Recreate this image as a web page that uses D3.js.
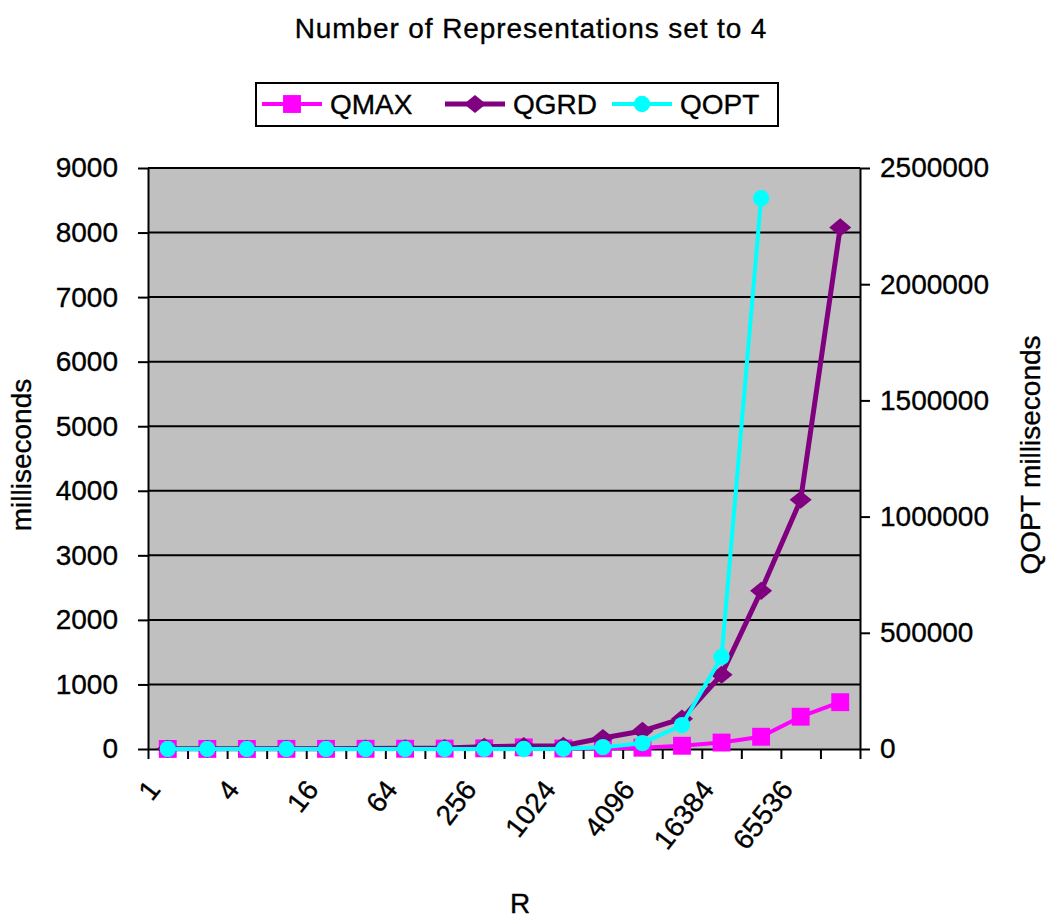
<!DOCTYPE html>
<html>
<head>
<meta charset="utf-8">
<script src="https://cdn.jsdelivr.net/npm/d3@7"></script>
<style>
  html, body { margin: 0; padding: 0; background: #ffffff; }
  svg { display: block; }
  text { font-family: "Liberation Sans", Arial, sans-serif; fill: #000; stroke: #000; stroke-width: 0.35px; }
</style>
</head>
<body>
<svg id="chart" width="1048" height="921"></svg>
<script>
// R values (powers of two) along the category axis
const categories = ["1","2","4","8","16","32","64","128","256","512","1024","2048",
                    "4096","8192","16384","32768","65536","131072"];
// Every other category is labelled
const xTickLabels = ["1","4","16","64","256","1024","4096","16384","65536"];

// Running times in milliseconds (left axis)
const qmax = [1, 1, 1, 2, 2, 3, 4, 6, 10, 25, 8, 10, 20, 50, 100, 190, 500, 725];
const qgrd = [2, 2, 3, 4, 5, 7, 10, 15, 35, 45, 50, 170, 280, 470, 1150, 2450, 3860, 8080];
// QOPT running time in milliseconds (right axis), measured up to R = 32768
const qopt = [1, 2, 4, 8, 15, 30, 60, 120, 250, 500, 1000, 8000, 25000, 103000, 396000, 2370000];

const leftTicks = [0, 1000, 2000, 3000, 4000, 5000, 6000, 7000, 8000, 9000];
const rightTicks = [0, 500000, 1000000, 1500000, 2000000, 2500000];

const svg = d3.select("#chart");
const plot = { left: 148, right: 860, top: 168, bottom: 749 };
const FONT = 28;

const x = d3.scaleBand().domain(categories).range([plot.left, plot.right]).padding(0);
const xIdx = d3.scaleLinear().domain([0, categories.length]).range([plot.left, plot.right]);
const yL = d3.scaleLinear().domain([0, 9000]).range([plot.bottom, plot.top]);
const yR = d3.scaleLinear().domain([0, 2500000]).range([plot.bottom, plot.top]);
const cx = c => x(c) + x.bandwidth() / 2;

// Wide diamond marker (wider than tall)
const wideDiamond = {
  draw(ctx, size) {
    const w = Math.sqrt(size) * 0.78, h = Math.sqrt(size) * 0.64;
    ctx.moveTo(0, -h); ctx.lineTo(w, 0); ctx.lineTo(0, h); ctx.lineTo(-w, 0); ctx.closePath();
  }
};

// Title
svg.append("text")
  .attr("x", 531).attr("y", 38)
  .attr("text-anchor", "middle")
  .style("font-size", FONT + "px")
  .style("letter-spacing", "0.9px")
  .text("Number of Representations set to 4");

// Plot background
svg.append("rect")
  .attr("x", plot.left).attr("y", plot.top)
  .attr("width", plot.right - plot.left).attr("height", plot.bottom - plot.top)
  .attr("fill", "#c0c0c0");

// Horizontal gridlines
svg.append("g").selectAll("line").data(leftTicks.filter(d => d > 0)).join("line")
  .attr("x1", plot.left).attr("x2", plot.right)
  .attr("y1", d => yL(d)).attr("y2", d => yL(d))
  .attr("stroke", "#000").attr("stroke-width", 2);

// Left axis
const gL = svg.append("g").attr("transform", `translate(${plot.left},0)`)
  .call(d3.axisLeft(yL).tickValues(leftTicks).tickSize(10).tickPadding(20).tickSizeOuter(0)
        .tickFormat(d3.format("d")));
gL.selectAll("text").style("font-size", FONT + "px").attr("font-family", null);
gL.selectAll("line, path").attr("stroke", "#000").attr("stroke-width", 2);

// Right axis
const gR = svg.append("g").attr("transform", `translate(${plot.right},0)`)
  .call(d3.axisRight(yR).tickValues(rightTicks).tickSize(10).tickPadding(10).tickSizeOuter(0)
        .tickFormat(d3.format("d")));
gR.selectAll("text").style("font-size", FONT + "px").attr("font-family", null);
gR.selectAll("line, path").attr("stroke", "#000").attr("stroke-width", 2);

// Bottom axis: ticks at category boundaries
const gB = svg.append("g").attr("transform", `translate(0,${plot.bottom})`)
  .call(d3.axisBottom(xIdx).tickValues(d3.range(0, categories.length + 1)).tickSize(10)
        .tickSizeOuter(0).tickFormat(""));
gB.selectAll("line, path").attr("stroke", "#000").attr("stroke-width", 2);

// Bottom axis labels, rotated
const gBL = svg.append("g").attr("transform", `translate(0,${plot.bottom})`)
  .call(d3.axisBottom(x).tickValues(xTickLabels).tickSize(0));
gBL.select(".domain").remove();
gBL.selectAll("text")
  .style("font-size", FONT + "px").attr("font-family", null)
  .attr("text-anchor", "end")
  .attr("x", 0).attr("y", 0).attr("dy", "0.35em")
  .attr("transform", "translate(-14,35) rotate(-52)");

// Axis titles
svg.append("text")
  .attr("transform", "translate(31,455) rotate(-90)")
  .attr("text-anchor", "middle")
  .style("font-size", FONT + "px")
  .text("milliseconds");
svg.append("text")
  .attr("transform", "translate(1040,455) rotate(-90)")
  .attr("text-anchor", "middle")
  .style("font-size", FONT + "px")
  .text("QOPT milliseconds");
svg.append("text")
  .attr("x", 520).attr("y", 913)
  .attr("text-anchor", "middle")
  .style("font-size", FONT + "px")
  .text("R");

// Series
const series = [
  { name: "QMAX", values: qmax, y: yL, color: "#ff00ff", width: 4, symbol: d3.symbolSquare, size: 320 },
  { name: "QGRD", values: qgrd, y: yL, color: "#800080", width: 5, symbol: wideDiamond, size: 200 },
  { name: "QOPT", values: qopt, y: yR, color: "#00ffff", width: 4, symbol: d3.symbolCircle, size: 210 }
];

series.forEach(s => {
  const pts = s.values.map((v, i) => [cx(categories[i]), s.y(v)]);
  svg.append("path")
    .attr("d", d3.line()(pts))
    .attr("fill", "none")
    .attr("stroke", s.color)
    .attr("stroke-width", s.width)
    .attr("stroke-linejoin", "round");
  svg.append("g").selectAll("path").data(pts).join("path")
    .attr("transform", d => `translate(${d[0]},${d[1]})`)
    .attr("d", d3.symbol().type(s.symbol).size(s.size))
    .attr("fill", s.color);
});

// Legend
const legend = svg.append("g");
legend.append("rect")
  .attr("x", 256).attr("y", 83).attr("width", 522).attr("height", 43)
  .attr("fill", "#fff").attr("stroke", "#000").attr("stroke-width", 2);
const legendX = [262, 445, 612];
series.forEach((s, i) => {
  const g = legend.append("g").attr("transform", `translate(${legendX[i]},104)`);
  g.append("line").attr("x1", 0).attr("x2", 60).attr("y1", 0).attr("y2", 0)
    .attr("stroke", s.color).attr("stroke-width", s.width);
  g.append("path").attr("transform", "translate(30,0)")
    .attr("d", d3.symbol().type(s.symbol).size(s.size)).attr("fill", s.color);
  g.append("text").attr("x", 68).attr("y", 0).attr("dy", "0.35em")
    .style("font-size", FONT + "px").text(s.name);
});
</script>
</body>
</html>
